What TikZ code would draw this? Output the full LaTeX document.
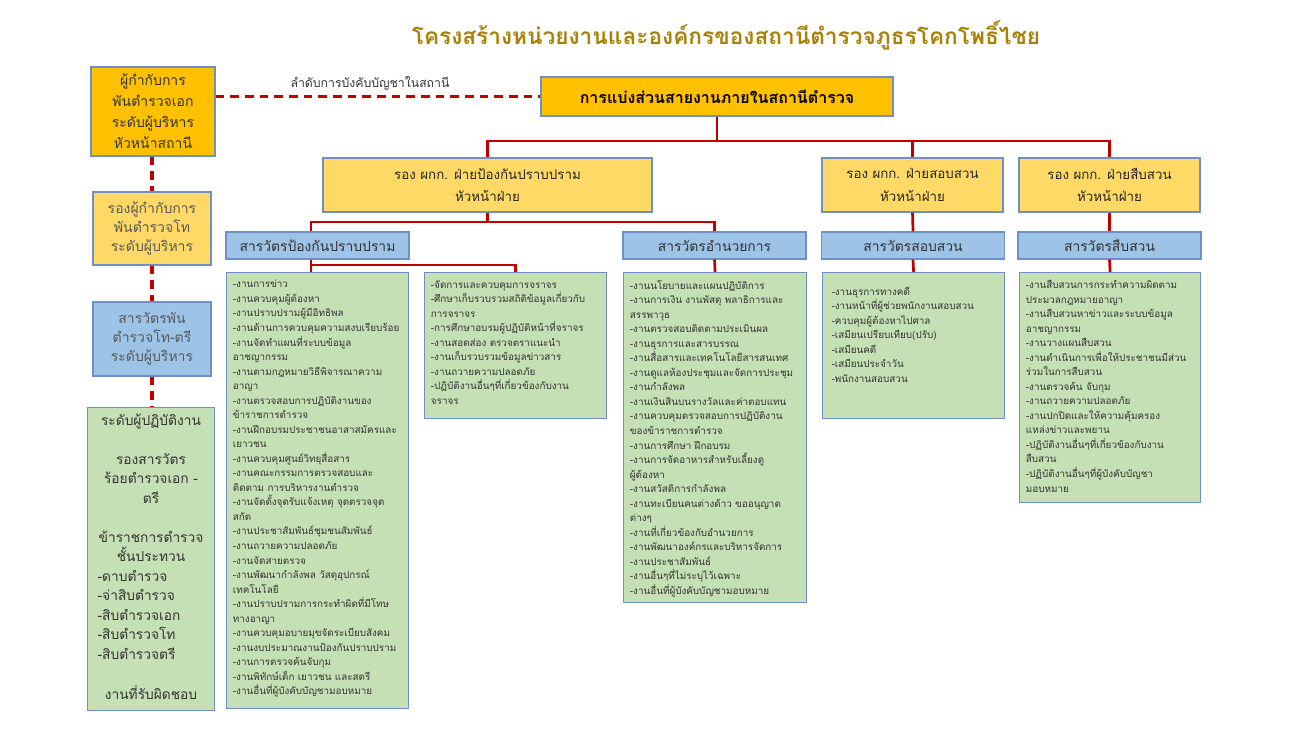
\documentclass[tikz,border=0pt]{standalone}
\usepackage{fontspec}
\setmainfont[Script=Thai]{Loma}
\newfontfamily\thaifont[Script=Thai]{Loma}
\definecolor{orangec}{HTML}{FFC000}
\definecolor{yellowc}{HTML}{FFD966}
\definecolor{bluec}{HTML}{9DC3E6}
\definecolor{greenc}{HTML}{C5E0B4}
\definecolor{bordc}{HTML}{6F8FC6}
\definecolor{redc}{HTML}{C00000}
\definecolor{titlec}{HTML}{A88208}
\definecolor{txtc}{HTML}{333333}
\definecolor{greytxt}{HTML}{595959}
\tikzset{
  sz/.style 2 args={minimum width=#1*0.75pt, minimum height=#2*0.75pt},
  box/.style={draw=bordc, line width=0.9pt, inner sep=0pt, align=center},
  orangebox/.style={box, fill=orangec},
  yellowbox/.style={box, fill=yellowc},
  bluebox/.style={box, fill=bluec},
  greenbox/.style={box, fill=greenc},
  redline/.style={draw=redc, line width=2pt},
  reddash/.style={draw=redc, line width=2.4pt, dash pattern=on 6.5pt off 4.5pt},
  listtext/.style={inner sep=0pt, align=left, anchor=north west, text=txtc,
    font=\fontsize{7.4}{10.9}\selectfont},
  lefttext/.style={text=txtc, font=\fontsize{10.5}{15.6}\selectfont},
}
\begin{document}
\begin{tikzpicture}[x=0.75pt, y=-0.75pt]
\useasboundingbox[fill=white] (0,0) rectangle (1302,734);

% title
\node[text=titlec, font=\fontsize{17}{21}\selectfont\bfseries] (title) at (726,35)
  {โครงสร้างหน่วยงานและองค์กรของสถานีตำรวจภูธรโคกโพธิ์ไชย};

% left column
\node[orangebox, sz={124}{89}, lefttext, font=\fontsize{10.5}{15.8}\selectfont] (L1) at (153,111.5)
  {ผู้กำกับการ\\พันตำรวจเอก\\ระดับผู้บริหาร\\หัวหน้าสถานี};
\node[yellowbox, sz={118}{73}, text=greytxt, font=\fontsize{10.5}{14.3}\selectfont] (L2) at (152,228.5)
  {รองผู้กำกับการ\\พันตำรวจโท\\ระดับผู้บริหาร};
\node[bluebox, sz={118}{74}, text=greytxt, font=\fontsize{10.5}{14.3}\selectfont] (L3) at (152,339)
  {สารวัตรพัน\\ตำรวจโท-ตรี\\ระดับผู้บริหาร};
\node[greenbox, sz={127}{303}, anchor=north] (L4) at (151,407) {};
\node[lefttext, anchor=north, inner sep=0pt, text width=80pt, align=center,
  font=\fontsize{10.3}{14.6}\selectfont] (L4t) at ([yshift=-5pt]L4.north)
  {ระดับผู้ปฏิบัติงาน\\[14.6pt]รองสารวัตร\\ร้อยตำรวจเอก -\\ตรี\\[14.6pt]ข้าราชการตำรวจ\\ชั้นประทวน\\
   \makebox[\linewidth][l]{-ดาบตำรวจ}\\\makebox[\linewidth][l]{-จ่าสิบตำรวจ}\\
   \makebox[\linewidth][l]{-สิบตำรวจเอก}\\\makebox[\linewidth][l]{-สิบตำรวจโท}\\
   \makebox[\linewidth][l]{-สิบตำรวจตรี}\\[15.5pt]งานที่รับผิดชอบ};

% top box
\node[orangebox, sz={352}{39}, text=black, font=\fontsize{12}{15}\selectfont\bfseries] (top) at (717,96.5)
  {การแบ่งส่วนสายงานภายในสถานีตำรวจ};
\node[text=txtc, font=\fontsize{9.2}{11}\selectfont, inner sep=0pt] (lbl) at (370,83)
  {ลำดับการบังคับบัญชาในสถานี};

% deputy boxes
\node[yellowbox, sz={329}{54}, text=black!85, font=\fontsize{10}{17}\selectfont] (Y1) at (487.5,185)
  {รอง ผกก. ฝ่ายป้องกันปราบปราม\\หัวหน้าฝ่าย};
\node[yellowbox, sz={181}{54}, text=black!85, font=\fontsize{10}{17}\selectfont] (Y2) at (912.5,185)
  {รอง ผกก. ฝ่ายสอบสวน\\หัวหน้าฝ่าย};
\node[yellowbox, sz={181}{54}, text=black!85, font=\fontsize{10}{17}\selectfont] (Y3) at (1109.5,185)
  {รอง ผกก. ฝ่ายสืบสวน\\หัวหน้าฝ่าย};

% inspector boxes
\tikzset{bt/.style={bluebox, sz={183}{27}, text=black!80, font=\fontsize{10.4}{12}\selectfont}}
\node[bt] (B1) at (317.5,245.5) {สารวัตรป้องกันปราบปราม};
\node[bt] (B2) at (714.5,245.5) {สารวัตรอำนวยการ};
\node[bt] (B3) at (913,245.5) {สารวัตรสอบสวน};
\node[bt] (B4) at (1109.5,245.5) {สารวัตรสืบสวน};

% green boxes
\node[greenbox, sz={182}{436}, anchor=north west] (GA) at (226,272) {};
\node[greenbox, sz={182}{146}, anchor=north west] (GB) at (424,272) {};
\node[greenbox, sz={183}{330}, anchor=north west] (GC) at (623,272) {};
\node[greenbox, sz={182}{146}, anchor=north west] (GD) at (822,272) {};
\node[greenbox, sz={181}{230}, anchor=north west] (GE) at (1019,272) {};

\node[listtext] (GAt) at ([xshift=5pt,yshift=-6pt]GA.north west) {%
-งานการข่าว\\
-งานควบคุมผู้ต้องหา\\
-งานปราบปรามผู้มีอิทธิพล\\
-งานด้านการควบคุมความสงบเรียบร้อย\\
-งานจัดทำแผนที่ระบบข้อมูล\\
อาชญากรรม\\
-งานตามกฎหมายวิธีพิจารณาความ\\
อาญา\\
-งานตรวจสอบการปฏิบัติงานของ\\
ข้าราชการตำรวจ\\
-งานฝึกอบรมประชาชนอาสาสมัครและ\\
เยาวชน\\
-งานควบคุมศูนย์วิทยุสื่อสาร\\
-งานคณะกรรมการตรวจสอบและ\\
ติดตาม การบริหารงานตำรวจ\\
-งานจัดตั้งจุดรับแจ้งเหตุ จุดตรวจจุด\\
สกัด\\
-งานประชาสัมพันธ์ชุมชนสัมพันธ์\\
-งานถวายความปลอดภัย\\
-งานจัดสายตรวจ\\
-งานพัฒนากำลังพล วัสดุอุปกรณ์\\
เทคโนโลยี\\
-งานปราบปรามการกระทำผิดที่มีโทษ\\
ทางอาญา\\
-งานควบคุมอบายมุขจัดระเบียบสังคม\\
-งานงบประมาณงานป้องกันปราบปราม\\
-งานการตรวจค้นจับกุม\\
-งานพิทักษ์เด็ก เยาวชน และสตรี\\
-งานอื่นที่ผู้บังคับบัญชามอบหมาย};

\node[listtext] (GBt) at ([xshift=5pt,yshift=-6pt]GB.north west) {%
-จัดการและควบคุมการจราจร\\
-ศึกษาเก็บรวบรวมสถิติข้อมูลเกี่ยวกับ\\
การจราจร\\
-การศึกษาอบรมผู้ปฏิบัติหน้าที่จราจร\\
-งานสอดส่อง ตรวจตราแนะนำ\\
-งานเก็บรวบรวมข้อมูลข่าวสาร\\
-งานถวายความปลอดภัย\\
-ปฏิบัติงานอื่นๆที่เกี่ยวข้องกับงาน\\
จราจร};

\node[listtext] (GCt) at ([xshift=5pt,yshift=-6pt]GC.north west) {%
-งานนโยบายและแผนปฏิบัติการ\\
-งานการเงิน งานพัสดุ พลาธิการและ\\
สรรพาวุธ\\
-งานตรวจสอบติดตามประเมินผล\\
-งานธุรการและสารบรรณ\\
-งานสื่อสารและเทคโนโลยีสารสนเทศ\\
-งานดูแลห้องประชุมและจัดการประชุม\\
-งานกำลังพล\\
-งานเงินสินบนรางวัลและค่าตอบแทน\\
-งานควบคุมตรวจสอบการปฏิบัติงาน\\
ของข้าราชการตำรวจ\\
-งานการศึกษา ฝึกอบรม\\
-งานการจัดอาหารสำหรับเลี้ยงดู\\
ผู้ต้องหา\\
-งานสวัสดิการกำลังพล\\
-งานทะเบียนคนต่างด้าว ขออนุญาต\\
ต่างๆ\\
-งานที่เกี่ยวข้องกับอำนวยการ\\
-งานพัฒนาองค์กรและบริหารจัดการ\\
-งานประชาสัมพันธ์\\
-งานอื่นๆที่ไม่ระบุไว้เฉพาะ\\
-งานอื่นที่ผู้บังคับบัญชามอบหมาย};

\node[listtext] (GDt) at ([xshift=7pt,yshift=-11pt]GD.north west) {%
-งานธุรการทางคดี\\
-งานหน้าที่ผู้ช่วยพนักงานสอบสวน\\
-ควบคุมผู้ต้องหาไปศาล\\
-เสมียนเปรียบเทียบ(ปรับ)\\
-เสมียนคดี\\
-เสมียนประจำวัน\\
-พนักงานสอบสวน};

\node[listtext] (GEt) at ([xshift=5pt,yshift=-6pt]GE.north west) {%
-งานสืบสวนการกระทำความผิดตาม\\
ประมวลกฎหมายอาญา\\
-งานสืบสวนหาข่าวและระบบข้อมูล\\
อาชญากรรม\\
-งานวางแผนสืบสวน\\
-งานดำเนินการเพื่อให้ประชาชนมีส่วน\\
ร่วมในการสืบสวน\\
-งานตรวจค้น จับกุม\\
-งานถวายความปลอดภัย\\
-งานปกปิดและให้ความคุ้มครอง\\
แหล่งข่าวและพยาน\\
-ปฏิบัติงานอื่นๆที่เกี่ยวข้องกับงาน\\
สืบสวน\\
-ปฏิบัติงานอื่นๆที่ผู้บังคับบัญชา\\
มอบหมาย};

% coordinates for buses
\coordinate (bus1) at (715,141);
\coordinate (bus2) at (488,222);
\coordinate (bus3) at (311,265);

% red connectors
\draw[redline] (top.south) -- (top.south |- bus1);
\draw[redline] (Y1.north) -- (Y1.north |- bus1) -- (Y3.north |- bus1) -- (Y3.north);
\draw[redline] (Y2.north) -- (Y2.north |- bus1);
\draw[redline] (Y1.south) -- (Y1.south |- bus2);
\draw[redline] (B1.north -| bus3) -- (bus3 |- bus2) -- (B2.north |- bus2) -- (B2.north);
\draw[redline] (Y2.south) -- (B3.north);
\draw[redline] (Y3.south) -- (B4.north);
\draw[redline] (B1.south -| bus3) -- (bus3) -- (bus3 -| GB.north) -- (GB.north);
\draw[redline] (bus3) -- (GA.north -| bus3);
\draw[redline] (B2.south) -- (GC.north);
\draw[redline] (B3.south) -- (GD.north);
\draw[redline] (B4.south) -- (GE.north);

% dashed command line
\draw[reddash] (L1.east |- top.west) -- (top.west);
\draw[reddash] (L1.south -| L2.north) -- (L2.north);
\draw[reddash] (L2.south) -- (L3.north);
\draw[reddash] (L3.south) -- (L4.north -| L3.south);
\end{tikzpicture}
\end{document}
